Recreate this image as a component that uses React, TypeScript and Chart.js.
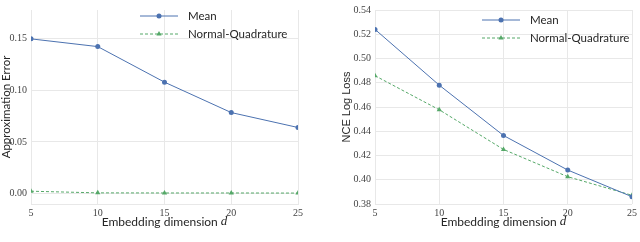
import React, { useEffect, useRef } from "react";
import { Chart, registerables } from "chart.js";
Chart.register(...registerables);

const dims = [5, 10, 15, 20, 25];
const errMean = [0.15, 0.1425, 0.108, 0.0785, 0.064];
const errQuad = [0.0022, 0.0006, 0.0005, 0.0005, 0.0004];
const nceMean = [0.524, 0.478, 0.4365, 0.408, 0.386];
const nceQuad = [0.4858, 0.4577, 0.425, 0.4025, 0.3872];
const errTicks = [0, 0.05, 0.1, 0.15];
const nceTicks = [0.38, 0.4, 0.42, 0.44, 0.46, 0.48, 0.5, 0.52, 0.54];
const xTicks = [5, 10, 15, 20, 25];
const seriesNames = ["Mean", "Normal-Quadrature"];
const xTitle = "Embedding dimension ";
const xTitleVar = "d";

const BLUE = "#4c72b0";
const GREEN = "#55a868";
const GRID = "#e8e8e8";
const SANS = "11.5px Lato";
const SERIF_FAMILY = "'Liberation Serif', 'DejaVu Serif', serif";

function drawMarker(ctx: CanvasRenderingContext2D, style: string, r: number, x: number, y: number, color: string) {
  ctx.save();
  ctx.fillStyle = color;
  ctx.beginPath();
  if (style === "triangle") {
    let rad = 0;
    ctx.moveTo(x + Math.sin(rad) * r, y - Math.cos(rad) * r);
    rad += (2 * Math.PI) / 3;
    ctx.lineTo(x + Math.sin(rad) * r, y - Math.cos(rad) * r);
    rad += (2 * Math.PI) / 3;
    ctx.lineTo(x + Math.sin(rad) * r, y - Math.cos(rad) * r);
    ctx.closePath();
  } else {
    ctx.arc(x, y, r, 0, Math.PI * 2);
  }
  ctx.fill();
  ctx.restore();
}

const decor = {
  id: "decor",
  afterDraw(chart: any, _args: any, opts: any) {
    const ctx: CanvasRenderingContext2D = chart.ctx;
    const ca = chart.chartArea;
    // legend
    chart.data.datasets.forEach((ds: any, i: number) => {
      const y = opts.legendY + i * 18;
      const x0 = opts.legendX;
      ctx.save();
      ctx.strokeStyle = ds.borderColor;
      ctx.lineWidth = ds.borderWidth;
      ctx.setLineDash(ds.borderDash || []);
      ctx.beginPath();
      ctx.moveTo(x0, y);
      ctx.lineTo(x0 + 38, y);
      ctx.stroke();
      ctx.setLineDash([]);
      drawMarker(ctx, ds.pointStyle, ds.pointRadius, x0 + 19, y, ds.borderColor);
      ctx.fillStyle = "#262626";
      ctx.font = SANS;
      ctx.textBaseline = "middle";
      ctx.textAlign = "left";
      ctx.fillText(ds.label, x0 + 48, y);
      ctx.restore();
    });
    // x title
    ctx.save();
    ctx.fillStyle = "#262626";
    ctx.textBaseline = "middle";
    ctx.textAlign = "left";
    const f1 = "12px Lato";
    const f2 = "italic 13px 'Liberation Serif'";
    ctx.font = f1;
    const w1 = ctx.measureText(xTitle).width;
    ctx.font = f2;
    const w2 = ctx.measureText(xTitleVar).width;
    const cx = (ca.left + ca.right) / 2;
    const sx = cx - (w1 + w2) / 2;
    ctx.font = f1;
    ctx.fillText(xTitle, sx, 222);
    ctx.font = f2;
    ctx.fillText(xTitleVar, sx + w1, 222);
    ctx.restore();
    // y title
    ctx.save();
    ctx.translate(opts.yTitleX, (ca.top + ca.bottom) / 2);
    ctx.rotate(-Math.PI / 2);
    ctx.fillStyle = "#262626";
    ctx.font = opts.yTitleFont;
    ctx.textAlign = "center";
    ctx.textBaseline = "middle";
    ctx.fillText(opts.yTitle, 0, 0);
    ctx.restore();
  },
};

type Spec = {
  mean: number[];
  quad: number[];
  yTicks: number[];
  yMin: number;
  yMax: number;
  yWidth: number;
  padRight: number;
  padTop: number;
  yTitle: string;
  yTitleFont: string;
  yTitleX: number;
  legendX: number;
  legendY: number;
  border: boolean;
};

function PanelChart({ spec, left }: { spec: Spec; left: number }) {
  const ref = useRef<HTMLCanvasElement | null>(null);
  useEffect(() => {
    if (!ref.current) return;
    const chart = new Chart(ref.current, {
      type: "line",
      data: {
        datasets: [
          {
            label: seriesNames[0],
            data: dims.map((d, i) => ({ x: d, y: spec.mean[i] })),
            borderColor: BLUE,
            backgroundColor: BLUE,
            borderWidth: 1,
            pointStyle: "circle",
            pointRadius: 2.5,
            pointBorderWidth: 0,
          },
          {
            label: seriesNames[1],
            data: dims.map((d, i) => ({ x: d, y: spec.quad[i] })),
            borderColor: GREEN,
            backgroundColor: GREEN,
            borderWidth: 1,
            borderDash: [3, 2],
            pointStyle: "triangle",
            pointRadius: 3,
            pointBorderWidth: 0,
          },
        ],
      },
      options: {
        animation: false,
        responsive: false,
        events: [],
        layout: { padding: { left: 0, right: spec.padRight, top: spec.padTop, bottom: 0 } },
        plugins: {
          legend: { display: false },
          tooltip: { enabled: false },
          decor: {
            yTitle: spec.yTitle,
            yTitleFont: spec.yTitleFont,
            yTitleX: spec.yTitleX,
            legendX: spec.legendX,
            legendY: spec.legendY,
          },
        } as any,
        scales: {
          x: {
            type: "linear",
            min: 5,
            max: 25,
            afterBuildTicks: (s: any) => {
              s.ticks = xTicks.map((v) => ({ value: v }));
            },
            afterFit: (s: any) => {
              s.height = 38;
            },
            grid: { color: GRID, drawTicks: false, lineWidth: 1 },
            border: { display: spec.border, color: GRID },
            ticks: {
              padding: 3,
              color: "#444",
              font: { family: SERIF_FAMILY, size: 10 },
              maxRotation: 0,
              autoSkip: false,
              callback: (v: any) => String(v),
            },
          },
          y: {
            type: "linear",
            min: spec.yMin,
            max: spec.yMax,
            afterBuildTicks: (s: any) => {
              s.ticks = spec.yTicks.map((v) => ({ value: v }));
            },
            afterFit: (s: any) => {
              s.width = spec.yWidth;
            },
            grid: { color: GRID, drawTicks: false, lineWidth: 1 },
            border: { display: spec.border, color: GRID },
            ticks: {
              padding: 4,
              color: "#444",
              font: { family: SERIF_FAMILY, size: 10 },
              autoSkip: false,
              callback: (v: any) => Number(v).toFixed(2),
            },
          },
        },
      },
      plugins: [decor as any],
    });
    return () => chart.destroy();
  }, []);
  return (
    <canvas
      ref={ref}
      width={320}
      height={242}
      style={{ position: "absolute", left, top: 0, width: 320, height: 242 }}
    />
  );
}

const leftSpec: Spec = {
  mean: errMean,
  quad: errQuad,
  yTicks: errTicks,
  yMin: -0.0102,
  yMax: 0.178,
  yWidth: 31,
  padRight: 22,
  padTop: 0,
  yTitle: "Approximation Error",
  yTitleFont: "11.5px Lato",
  yTitleX: 6,
  legendX: 140,
  legendY: 16,
  border: true,
};

const rightSpec: Spec = {
  mean: nceMean,
  quad: nceQuad,
  yTicks: nceTicks,
  yMin: 0.38,
  yMax: 0.54,
  yWidth: 55,
  padRight: 4,
  padTop: 5,
  yTitle: "NCE Log Loss",
  yTitleFont: "11px 'Liberation Sans'",
  yTitleX: 27,
  legendX: 162,
  legendY: 20,
  border: false,
};

export default function App() {
  return (
    <div style={{ position: "fixed", left: 0, top: 0, width: 640, height: 242, background: "#fff" }}>
      <PanelChart spec={leftSpec} left={0} />
      <PanelChart spec={rightSpec} left={320} />
    </div>
  );
}
